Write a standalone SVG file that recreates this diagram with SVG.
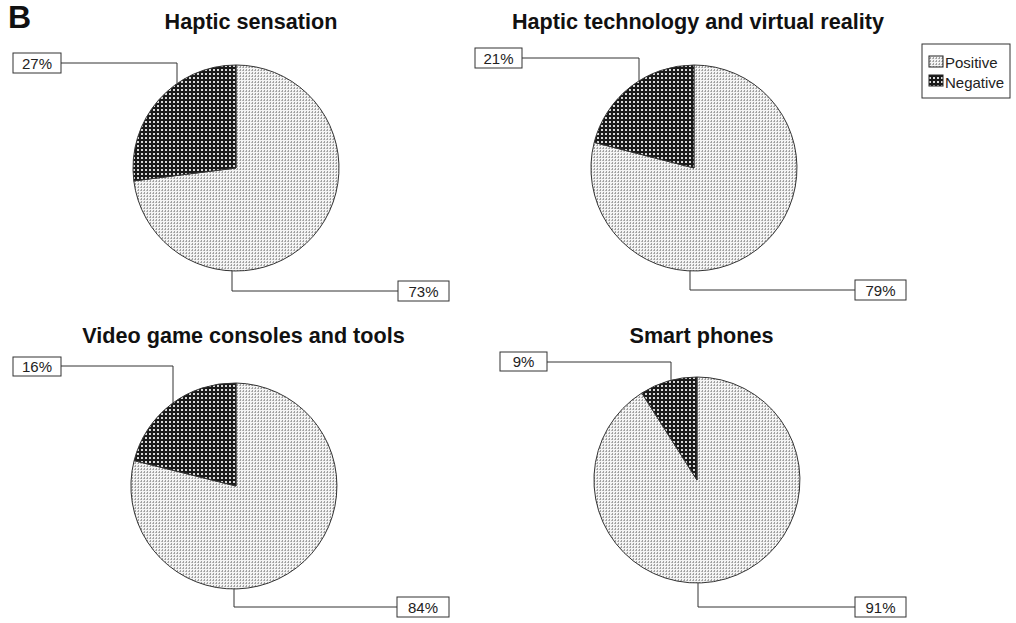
<svg xmlns="http://www.w3.org/2000/svg" width="1016" height="623" viewBox="0 0 1016 623">
<style>
.title{font-family:"Liberation Sans",Arial,sans-serif;font-weight:bold;font-size:21.6px;fill:#111;text-anchor:middle}
.lbl{font-family:"Liberation Sans",Arial,sans-serif;font-size:15px;fill:#222;text-anchor:middle}
.leg{font-family:"Liberation Sans",Arial,sans-serif;font-size:15px;fill:#222}
.box{fill:#fff;stroke:#333;stroke-width:1}
.pos{fill:url(#pPos);stroke:#333;stroke-width:1}
.neg{fill:url(#pNeg);stroke:#333;stroke-width:1}
.lead{fill:none;stroke:#333;stroke-width:1}
</style>
<defs>
<pattern id="pPos" width="3" height="3" patternUnits="userSpaceOnUse">
<rect width="3" height="3" fill="#f4f4f4"/>
<rect x="0" y="0" width="1" height="2" fill="#a0a0a0"/>
<rect x="2" y="1" width="1" height="1" fill="#b8b8b8"/>
</pattern>
<pattern id="pNeg" width="4" height="4" patternUnits="userSpaceOnUse">
<rect width="4" height="4" fill="#1a1a1a"/>
<rect x="1" y="1" width="2" height="2" fill="#d8d8d8"/>
</pattern>
</defs>
<rect width="1016" height="623" fill="#fff"/>
<text x="8" y="28" font-family="Liberation Sans,Arial,sans-serif" font-weight="bold" font-size="32" fill="#111">B</text>

<g id="legend">
<rect x="922" y="44" width="88" height="54" class="box"/>
<rect x="929" y="56" width="14" height="11" fill="url(#pPos)" stroke="#222"/>
<rect x="929" y="75" width="14" height="11" fill="url(#pNeg)" stroke="#222"/>
<text x="945" y="68" class="leg">Positive</text>
<text x="945" y="88" class="leg">Negative</text>
</g>

<g id="pie1">
<text x="251" y="29" class="title">Haptic sensation</text>
<path class="pos" d="M236,168 L133.8,180.9 A103,103 0 1,0 236,65 Z"/>
<path class="neg" d="M236,168 L236,65 A103,103 0 0,0 133.8,180.9 Z"/>
</g>
<g id="pie2">
<text x="698" y="29" class="title">Haptic technology and virtual reality</text>
<path class="pos" d="M694,168 L594.2,142.4 A103,103 0 1,0 694,65 Z"/>
<path class="neg" d="M694,168 L694,65 A103,103 0 0,0 594.2,142.4 Z"/>
</g>
<g id="pie3">
<text x="243.5" y="343" class="title">Video game consoles and tools</text>
<path class="pos" d="M236,486 L134.1,460.6 A103,103 0 1,0 236,383 Z"/>
<path class="neg" d="M236,486 L236,383 A103,103 0 0,0 134.1,460.6 Z"/>
</g>
<g id="pie4">
<text x="701.5" y="343" class="title">Smart phones</text>
<path class="pos" d="M697,480 L641.8,393 A103,103 0 1,0 697,377 Z"/>
<path class="neg" d="M697,480 L697,377 A103,103 0 0,0 641.8,393 Z"/>
</g>

<g id="connectors">
<polyline class="lead" points="61,63 177,63 177,83.6"/>
<polyline class="lead" points="232,270.9 232,291 398,291"/>
<polyline class="lead" points="522,58 639,58 639,80.9"/>
<polyline class="lead" points="690,270.9 690,290 855,290"/>
<polyline class="lead" points="61,366 173,366 173,404.5"/>
<polyline class="lead" points="234,589 234,607 397,607"/>
<polyline class="lead" points="547,362 671,362 671,380.3"/>
<polyline class="lead" points="698,583 698,607 855,607"/>
</g>

<g id="label-27"><rect x="13" y="53" width="48" height="20" class="box"/><text x="37" y="68.5" class="lbl">27%</text></g>
<g id="label-73"><rect x="398" y="281" width="51" height="20" class="box"/><text x="423.5" y="296.5" class="lbl">73%</text></g>
<g id="label-21"><rect x="475" y="48" width="47" height="20" class="box"/><text x="498.5" y="63.5" class="lbl">21%</text></g>
<g id="label-79"><rect x="855" y="280" width="51" height="20" class="box"/><text x="880.5" y="295.5" class="lbl">79%</text></g>
<g id="label-16"><rect x="13" y="357" width="48" height="19" class="box"/><text x="37" y="372" class="lbl">16%</text></g>
<g id="label-84"><rect x="397" y="597" width="52" height="20" class="box"/><text x="423" y="612.5" class="lbl">84%</text></g>
<g id="label-9"><rect x="500" y="352" width="47" height="19" class="box"/><text x="523.5" y="367" class="lbl">9%</text></g>
<g id="label-91"><rect x="855" y="597" width="51" height="20" class="box"/><text x="880.5" y="612.5" class="lbl">91%</text></g>
</svg>
